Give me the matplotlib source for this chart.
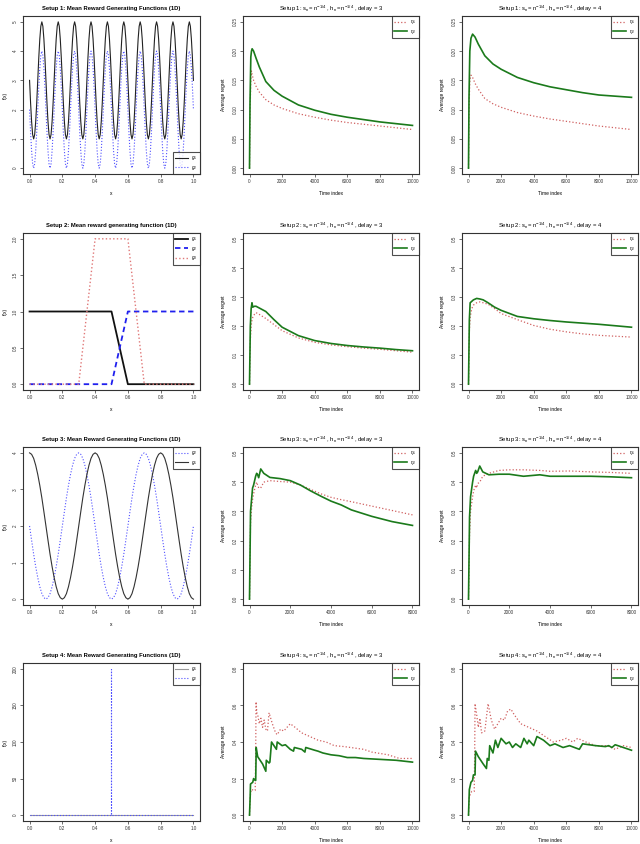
import numpy as np
import matplotlib
matplotlib.use("Agg")
import matplotlib.pyplot as plt

plt.rcParams['font.family'] = ['Liberation Sans', 'DejaVu Sans']
plt.rcParams['mathtext.fontset'] = 'custom'
plt.rcParams['mathtext.rm'] = 'Liberation Sans'
plt.rcParams['mathtext.it'] = 'Liberation Sans:italic'

# ---------------- reward generating functions ----------------
# Setup 1: one period (0.1) sampled every 0.00625
s1_g1_period = [3.0, 2.23, 1.59, 1.15, 1.0, 1.15, 1.59, 2.23,
                3.0, 3.77, 4.41, 4.85, 5.0, 4.85, 4.41, 3.77]
s1_g2_period = [2.0, 1.23, 0.59, 0.15, 0.0, 0.15, 0.59, 1.23,
                2.0, 2.77, 3.41, 3.85, 4.0, 3.85, 3.41, 2.77]
s1_x = np.linspace(0, 1, 161)
s1_g1 = s1_g1_period * 10 + [3.0]
s1_g2 = s1_g2_period * 10 + [2.0]

# Setup 2: piecewise linear
s2_g1_x = [0.0, 0.5, 0.6, 1.0]
s2_g1 = [1.0, 1.0, 0.0, 0.0]
s2_g2_x = [0.0, 0.5, 0.6, 1.0]
s2_g2 = [0.0, 0.0, 1.0, 1.0]
s2_g3_x = [0.0, 0.3, 0.4, 0.6, 0.7, 1.0]
s2_g3 = [0.0, 0.0, 2.0, 2.0, 0.0, 0.0]

# Setup 3: period 0.4 sampled every 0.0125
s3_period = [4.0, 3.96, 3.85, 3.66, 3.41, 3.11, 2.77, 2.39, 2.0, 1.61, 1.23, 0.89,
             0.59, 0.34, 0.15, 0.04, 0.0, 0.04, 0.15, 0.34, 0.59, 0.89, 1.23, 1.61,
             2.0, 2.39, 2.77, 3.11, 3.41, 3.66, 3.85, 3.96]
s3_x = np.linspace(0, 1, 81)
s3_g1 = (s3_period * 3)[:81]
s3_g2 = (s3_period * 4)[8:89]

# Setup 4: flat zero with a spike at 0.5
s4_g1_x = [0.0, 1.0]
s4_g1 = [0.0, 0.0]
s4_g2_x = [0.0, 0.5, 0.5, 0.5, 1.0]
s4_g2 = [0.0, 0.0, 200.0, 0.0, 0.0]

# ---------------- average regret curves ----------------
s1d3_t = [0, 30, 80, 120, 160, 250, 400, 600, 1000, 1500, 2000, 3000, 4000, 5000, 6000, 7000, 8000, 9000, 10000]
s1d3_eta1 = [0.0, 0.09, 0.15, 0.166, 0.160, 0.150, 0.140, 0.130, 0.117, 0.108, 0.102, 0.093, 0.087, 0.082, 0.078, 0.075, 0.072, 0.069, 0.066]
s1d3_eta2 = [0.0, 0.11, 0.19, 0.200, 0.204, 0.200, 0.188, 0.173, 0.148, 0.133, 0.123, 0.108, 0.099, 0.092, 0.087, 0.083, 0.079, 0.076, 0.073]

s1d4_t = [0, 30, 80, 150, 250, 400, 600, 1000, 1500, 2000, 3000, 4000, 5000, 6000, 7000, 8000, 9000, 10000]
s1d4_eta1 = [0.0, 0.10, 0.15, 0.159, 0.155, 0.145, 0.135, 0.119, 0.110, 0.104, 0.095, 0.089, 0.084, 0.080, 0.076, 0.072, 0.069, 0.066]
s1d4_eta2 = [0.0, 0.12, 0.20, 0.222, 0.229, 0.224, 0.212, 0.192, 0.178, 0.169, 0.155, 0.146, 0.139, 0.134, 0.129, 0.125, 0.123, 0.121]

s2d3_t = [0, 50, 100, 150, 200, 300, 400, 600, 1000, 1500, 2000, 3000, 4000, 5000, 6000, 7000, 8000, 9000, 10000]
s2d3_eta1 = [0.0, 0.15, 0.20, 0.22, 0.23, 0.24, 0.246, 0.240, 0.226, 0.205, 0.184, 0.159, 0.144, 0.135, 0.129, 0.124, 0.120, 0.115, 0.110]
s2d3_eta2 = [0.0, 0.20, 0.26, 0.28, 0.265, 0.268, 0.268, 0.262, 0.250, 0.222, 0.196, 0.167, 0.150, 0.140, 0.133, 0.128, 0.124, 0.119, 0.115]

s2d4_t = [0, 50, 100, 200, 300, 500, 700, 900, 1200, 1600, 2000, 3000, 4000, 5000, 6000, 7000, 8000, 9000, 10000]
s2d4_eta1 = [0.0, 0.18, 0.23, 0.26, 0.272, 0.280, 0.283, 0.280, 0.275, 0.260, 0.243, 0.222, 0.202, 0.189, 0.180, 0.173, 0.168, 0.165, 0.162]
s2d4_eta2 = [0.0, 0.22, 0.28, 0.285, 0.290, 0.295, 0.293, 0.290, 0.280, 0.265, 0.254, 0.233, 0.225, 0.219, 0.214, 0.210, 0.206, 0.201, 0.196]

s3d3_t = [0, 50, 100, 150, 200, 300, 350, 400, 450, 550, 700, 1000, 1500, 2000, 2500, 3000, 3500, 4000, 4500, 5000, 6000, 7000, 8000]
s3d3_eta1 = [0.0, 0.26, 0.31, 0.34, 0.36, 0.39, 0.40, 0.39, 0.38, 0.38, 0.40, 0.405, 0.402, 0.400, 0.39, 0.375, 0.360, 0.348, 0.340, 0.333, 0.318, 0.303, 0.288]
s3d3_eta2 = [0.0, 0.30, 0.34, 0.38, 0.39, 0.42, 0.43, 0.425, 0.415, 0.445, 0.43, 0.416, 0.412, 0.405, 0.39, 0.37, 0.352, 0.335, 0.322, 0.305, 0.283, 0.265, 0.252]

s3d4_t = [0, 50, 100, 200, 250, 350, 400, 450, 550, 700, 1000, 1500, 2000, 2700, 3500, 4000, 5000, 6000, 7000, 8000]
s3d4_eta1 = [0.0, 0.22, 0.30, 0.35, 0.37, 0.39, 0.38, 0.395, 0.40, 0.42, 0.43, 0.44, 0.442, 0.442, 0.440, 0.437, 0.438, 0.435, 0.433, 0.43]
s3d4_eta2 = [0.0, 0.28, 0.35, 0.40, 0.42, 0.44, 0.43, 0.435, 0.455, 0.435, 0.425, 0.427, 0.427, 0.42, 0.425, 0.42, 0.42, 0.42, 0.418, 0.415]

s4d3_t1 = [0, 40, 100, 350, 380, 400, 450, 500, 600, 700, 800, 900, 1000, 1100, 1200, 1400, 1600, 1700, 1900, 2100, 2300, 2500, 2800, 3200, 3700, 4200, 4700, 5200, 5800, 6200, 7000, 7500, 8500, 9200, 10000]
s4d3_eta1 = [0.0, 0.10, 0.14, 0.135, 0.35, 0.62, 0.56, 0.55, 0.50, 0.53, 0.48, 0.52, 0.47, 0.46, 0.56, 0.50, 0.45, 0.44, 0.47, 0.46, 0.48, 0.50, 0.48, 0.45, 0.43, 0.41, 0.40, 0.38, 0.375, 0.37, 0.36, 0.345, 0.33, 0.31, 0.31]
s4d3_t2 = [0, 40, 60, 200, 250, 350, 380, 410, 500, 800, 1000, 1030, 1200, 1250, 1350, 1650, 1700, 2000, 2200, 2500, 2700, 2750, 3200, 3400, 3450, 4000, 4200, 4500, 5000, 5500, 6000, 6500, 7000, 8000, 9000, 10000]
s4d3_eta2 = [0.0, 0.10, 0.17, 0.18, 0.20, 0.19, 0.19, 0.37, 0.32, 0.28, 0.24, 0.30, 0.285, 0.29, 0.40, 0.36, 0.40, 0.38, 0.385, 0.36, 0.35, 0.37, 0.36, 0.345, 0.37, 0.355, 0.35, 0.34, 0.33, 0.325, 0.315, 0.315, 0.31, 0.305, 0.30, 0.29]

s4d4_t1 = [0, 40, 200, 350, 380, 400, 500, 600, 700, 800, 1000, 1200, 1400, 1600, 1800, 2000, 2200, 2400, 2600, 2800, 3200, 3700, 4200, 4700, 5200, 5700, 6000, 6400, 6700, 7200, 7800, 8500, 9000, 9500, 10000]
s4d4_eta1 = [0.0, 0.10, 0.13, 0.13, 0.35, 0.61, 0.55, 0.48, 0.53, 0.45, 0.46, 0.61, 0.52, 0.47, 0.50, 0.53, 0.52, 0.57, 0.58, 0.55, 0.50, 0.48, 0.46, 0.43, 0.40, 0.41, 0.42, 0.40, 0.42, 0.40, 0.38, 0.38, 0.36, 0.38, 0.37]
s4d4_t2 = [0, 50, 150, 250, 300, 400, 430, 600, 900, 1100, 1150, 1250, 1300, 1500, 1650, 1800, 2000, 2300, 2500, 2700, 2900, 3200, 3400, 3600, 3700, 4000, 4200, 4600, 5000, 5300, 5800, 6200, 6800, 7000, 7800, 8400, 8600, 8800, 9000, 9500, 10000]
s4d4_eta2 = [0.0, 0.14, 0.18, 0.19, 0.22, 0.22, 0.35, 0.32, 0.28, 0.255, 0.31, 0.30, 0.38, 0.34, 0.41, 0.37, 0.42, 0.39, 0.40, 0.37, 0.39, 0.37, 0.42, 0.39, 0.41, 0.38, 0.43, 0.41, 0.38, 0.39, 0.37, 0.38, 0.36, 0.39, 0.38, 0.375, 0.38, 0.37, 0.385, 0.37, 0.355]

RED = '#d06060'
GREEN = '#1b7a1b'
BLUE = '#5050ff'

fig = plt.figure(figsize=(6.4, 8.44), dpi=100)
W, H = 640.0, 844.0
col_px = [(23, 200), (243, 419), (462, 638)]
row_px = [(16, 174), (233, 390), (447, 605), (663, 821)]


def make_ax(r, c):
    x0, x1 = col_px[c]
    y0, y1 = row_px[r]
    ax = fig.add_axes([x0 / W, 1 - y1 / H, (x1 - x0) / W, (y1 - y0) / H])
    for sp in ax.spines.values():
        sp.set_linewidth(0.8)
        sp.set_color('#333333')
    ax.tick_params(direction='out', length=2, width=0.5, labelsize=3.3, pad=1.5, colors='#333333')
    return ax


def r_lims(ax, xlo, xhi, ylo, yhi):
    dx = (xhi - xlo) * 0.04
    dy = (yhi - ylo) * 0.04
    ax.set_xlim(xlo - dx, xhi + dx)
    ax.set_ylim(ylo - dy, yhi + dy)


def set_ticks(ax, xt, xl, yt, yl):
    ax.set_xticks(xt)
    ax.set_xticklabels(xl)
    ax.set_yticks(yt)
    ax.set_yticklabels(yl, rotation=90, va='center')


def leg(ax, loc):
    lg = ax.legend(loc=loc, fontsize=3.4, frameon=True, fancybox=False, borderaxespad=0,
                   handlelength=2.6, borderpad=0.5, labelspacing=0.3, handletextpad=0.8)
    lg.get_frame().set_edgecolor('#222222')
    lg.get_frame().set_linewidth(0.8)


x_ticks = [0, 0.2, 0.4, 0.6, 0.8, 1.0]
x_labs = ['0.0', '0.2', '0.4', '0.6', '0.8', '1.0']
fn_titles = ['Setup 1: Mean Reward Generating Functions (1D)',
             'Setup 2: Mean reward generating function (1D)',
             'Setup 3: Mean Reward Generating Functions (1D)',
             'Setup 4: Mean Reward Generating Functions (1D)']

# ----- column 1 -----
ax = make_ax(0, 0)
ax.plot(s1_x, s1_g1, color='#222222', lw=0.8, label='$g_1$')
ax.plot(s1_x, s1_g2, color=BLUE, lw=0.8, ls=':', label='$g_2$')
r_lims(ax, 0, 1, 0, 5)
set_ticks(ax, x_ticks, x_labs, [0, 1, 2, 3, 4, 5], ['0', '1', '2', '3', '4', '5'])
leg(ax, 'lower right')

ax = make_ax(1, 0)
ax.plot(s2_g1_x, s2_g1, color='#111111', lw=1.3, label='$g_1$')
ax.plot(s2_g2_x, s2_g2, color='#2020ee', lw=1.3, ls=(0, (3, 2)), label='$g_2$')
ax.plot(s2_g3_x, s2_g3, color='#e07878', lw=1.0, ls=':', label='$g_3$')
r_lims(ax, 0, 1, 0, 2)
set_ticks(ax, x_ticks, x_labs, [0, 0.5, 1, 1.5, 2], ['0.0', '0.5', '1.0', '1.5', '2.0'])
leg(ax, 'upper right')

ax = make_ax(2, 0)
ax.plot(s3_x, s3_g2, color=BLUE, lw=0.8, ls=':', label='$g_2$')
ax.plot(s3_x, s3_g1, color='#333333', lw=0.8, label='$g_1$')
r_lims(ax, 0, 1, 0, 4)
set_ticks(ax, x_ticks, x_labs, [0, 1, 2, 3, 4], ['0', '1', '2', '3', '4'])
leg(ax, 'upper right')

ax = make_ax(3, 0)
ax.plot(s4_g1_x, s4_g1, color='#999999', lw=0.8, label='$g_1$')
ax.plot(s4_g2_x, s4_g2, color=BLUE, lw=0.8, ls=':', label='$g_2$')
r_lims(ax, 0, 1, 0, 200)
set_ticks(ax, x_ticks, x_labs, [0, 50, 100, 150, 200], ['0', '50', '100', '150', '200'])
leg(ax, 'upper right')

for r in range(4):
    a = fig.axes[r]
    a.set_title(fn_titles[r], fontsize=4.2, fontweight='bold', pad=4)
    a.set_xlabel('x', fontsize=3.5, labelpad=5)
    a.set_ylabel('f(x)', fontsize=3.5, labelpad=4)

# ----- regret columns -----
regret = [
    [(s1d3_t, s1d3_eta1, s1d3_t, s1d3_eta2), (s1d4_t, s1d4_eta1, s1d4_t, s1d4_eta2)],
    [(s2d3_t, s2d3_eta1, s2d3_t, s2d3_eta2), (s2d4_t, s2d4_eta1, s2d4_t, s2d4_eta2)],
    [(s3d3_t, s3d3_eta1, s3d3_t, s3d3_eta2), (s3d4_t, s3d4_eta1, s3d4_t, s3d4_eta2)],
    [(s4d3_t1, s4d3_eta1, s4d3_t2, s4d3_eta2), (s4d4_t1, s4d4_eta1, s4d4_t2, s4d4_eta2)],
]
y_max = [0.25, 0.5, 0.5, 0.8]
y_ticks = [[0, 0.05, 0.10, 0.15, 0.20, 0.25], [0, 0.1, 0.2, 0.3, 0.4, 0.5],
           [0, 0.1, 0.2, 0.3, 0.4, 0.5], [0, 0.2, 0.4, 0.6, 0.8]]
y_labs = [['0.00', '0.05', '0.10', '0.15', '0.20', '0.25'],
          ['0.0', '0.1', '0.2', '0.3', '0.4', '0.5'],
          ['0.0', '0.1', '0.2', '0.3', '0.4', '0.5'],
          ['0.0', '0.2', '0.4', '0.6', '0.8']]
t_max = [10000, 10000, 8000, 10000]

for r in range(4):
    for c in range(2):
        ax = make_ax(r, c + 1)
        t1, e1, t2, e2 = regret[r][c]
        ax.plot(t1, e1, color=RED, lw=0.9, ls=':', label=r'$\eta_1$')
        ax.plot(t2, e2, color=GREEN, lw=1.2, label=r'$\eta_2$')
        r_lims(ax, 0, t_max[r], 0, y_max[r])
        xt = list(range(0, t_max[r] + 1, 2000))
        set_ticks(ax, xt, [str(v) for v in xt], y_ticks[r], y_labs[r])
        leg(ax, 'upper right')
        ax.set_title(r'Setup %d: $\mathrm{s_n = n^{-1/4}}$ , $\mathrm{h_n = n^{-1/4}}$ , delay = %d'
                     % (r + 1, c + 3), fontsize=4.2, pad=4)
        ax.set_xlabel('Time index', fontsize=3.5, labelpad=5)
        ax.set_ylabel('Average regret', fontsize=3.5, labelpad=5)

fig.savefig('out.png', dpi=100)
